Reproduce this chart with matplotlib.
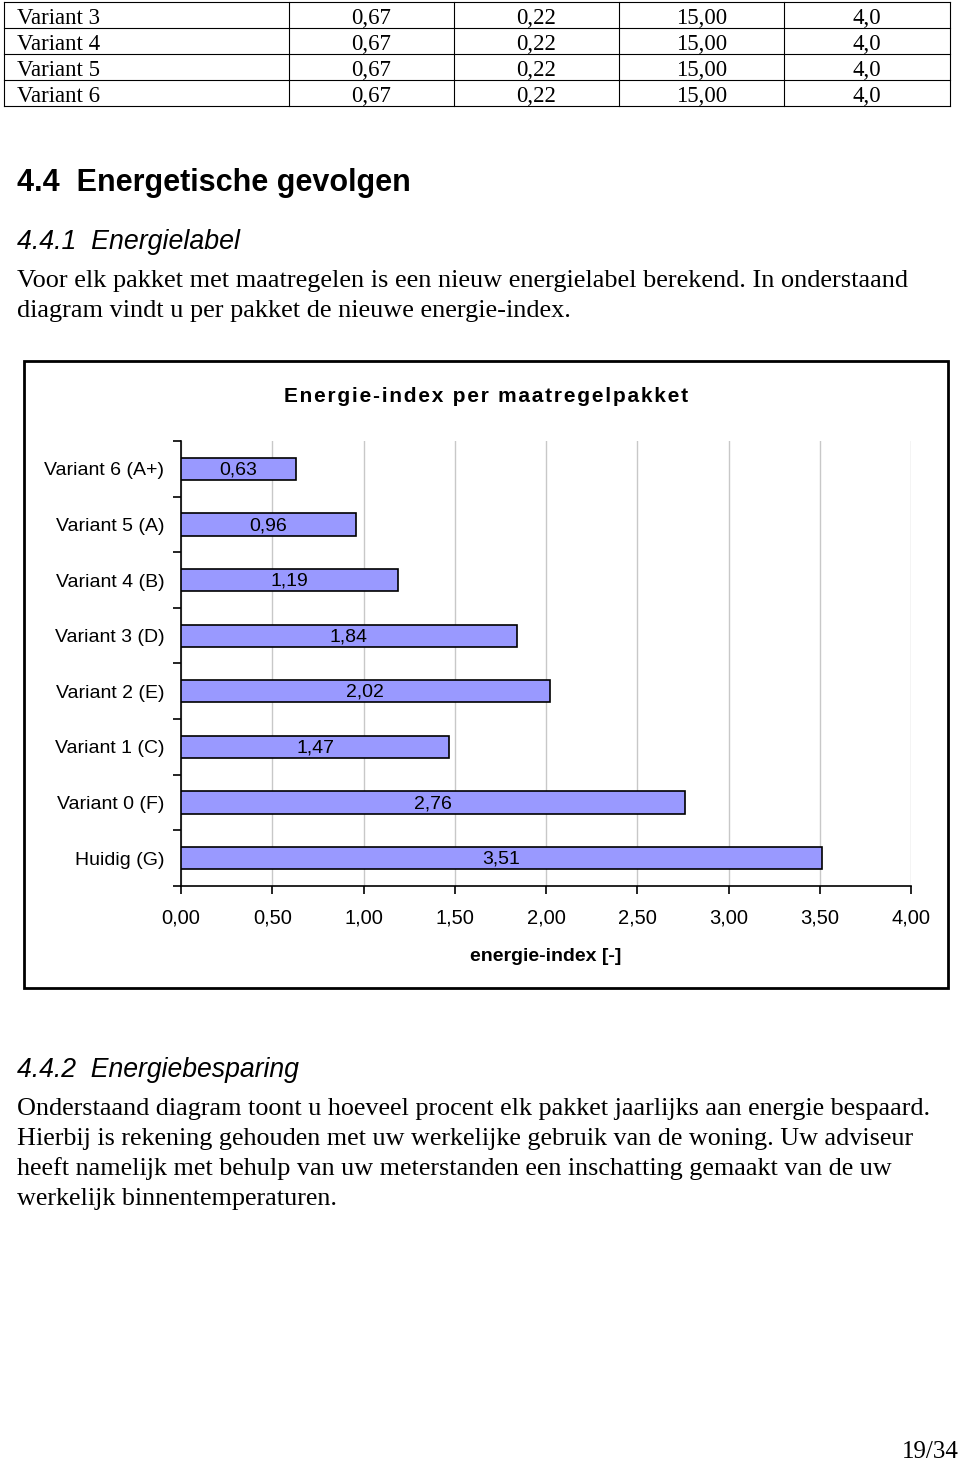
import matplotlib.pyplot as plt
from matplotlib.patches import Rectangle
import numpy as np

# data
table_rows = ["Variant 3", "Variant 4", "Variant 5", "Variant 6"]
table_u_raam = ["0,67", "0,67", "0,67", "0,67"]
table_u_deur = ["0,22", "0,22", "0,22", "0,22"]
table_rc = ["15,00", "15,00", "15,00", "15,00"]
table_last = ["4,0", "4,0", "4,0", "4,0"]

categories = ["Huidig (G)", "Variant 0 (F)", "Variant 1 (C)", "Variant 2 (E)",
              "Variant 3 (D)", "Variant 4 (B)", "Variant 5 (A)", "Variant 6 (A+)"]
values = [3.51, 2.76, 1.47, 2.02, 1.84, 1.19, 0.96, 0.63]
xticks = [0, 0.5, 1.0, 1.5, 2.0, 2.5, 3.0, 3.5, 4.0]

W, H = 960, 1463
fig = plt.figure(figsize=(W / 100, H / 100), dpi=100)

# page overlay in pixel coordinates
page = fig.add_axes([0, 0, 1, 1])
page.set_xlim(0, W)
page.set_ylim(H, 0)
page.axis("off")

serif = "Liberation Serif"
sans = ["Liberation Sans", "DejaVu Sans"]

# table
col_edges = [4, 289, 454, 619, 784, 950]
row_edges = [2, 28, 54, 80, 106]
for y in row_edges:
    page.plot([col_edges[0], col_edges[-1]], [y, y], color="black", lw=0.8)
for x in col_edges:
    page.plot([x, x], [row_edges[0], row_edges[-1]], color="black", lw=0.8)
cols = [table_u_raam, table_u_deur, table_rc, table_last]
for i, name in enumerate(table_rows):
    yc = (row_edges[i] + row_edges[i + 1]) / 2 + 3
    page.text(col_edges[0] + 13, yc, name, family=serif, fontsize=16.5,
              va="center", ha="left")
    for j, col in enumerate(cols):
        xc = (col_edges[j + 1] + col_edges[j + 2]) / 2
        page.text(xc, yc, col[i], family=serif, fontsize=16.5,
                  va="center", ha="center")

# headings and body text
page.text(17, 183, "4.4  Energetische gevolgen", family=sans, fontsize=22,
          weight="bold", va="center")
page.text(17, 242, "4.4.1  Energielabel", family=sans, fontsize=19.3,
          style="italic", va="center")
page.text(17, 281, "Voor elk pakket met maatregelen is een nieuw energielabel berekend. "
          "In onderstaand", family=serif, fontsize=18.9, va="center")
page.text(17, 311, "diagram vindt u per pakket de nieuwe energie-index.",
          family=serif, fontsize=18.9, va="center")

page.text(17, 1070, "4.4.2  Energiebesparing", family=sans, fontsize=19.2,
          style="italic", va="center")
body = ["Onderstaand diagram toont u hoeveel procent elk pakket jaarlijks aan energie bespaard.",
        "Hierbij is rekening gehouden met uw werkelijke gebruik van de woning. Uw adviseur",
        "heeft namelijk met behulp van uw meterstanden een inschatting gemaakt van de uw",
        "werkelijk binnentemperaturen."]
for k, line in enumerate(body):
    page.text(17, 1109 + 30 * k, line, family=serif, fontsize=18.8, va="center")

page.text(930, 1452, "19/34", family=serif, fontsize=18, va="center", ha="center")

# chart frame
page.add_patch(Rectangle((24, 361), 924, 627, fill=False, edgecolor="black", lw=2))
title = "Energie-index per maatregelpakket"
page.text(486, 396, "\u200a".join(title), family=sans, fontsize=15,
          weight="bold", va="center", ha="center")

# chart
ax = fig.add_axes([181 / W, 1 - 886 / H, 730 / W, 445 / H])
y = np.arange(len(categories))
bars = ax.barh(y, values, height=0.4, color="#9999ff", edgecolor="black", lw=1.2,
               zorder=3)
for b, v in zip(bars, values):
    ax.text(v / 2, b.get_y() + b.get_height() / 2 - 0.02, f"{v:.2f}".replace(".", ","),
            ha="center", va="center", family=sans, fontsize=14, zorder=4)

ax.set_xlim(0, 4)
ax.set_ylim(-0.5, len(categories) - 0.5)
ax.set_xticks(xticks)
ax.set_xticklabels([f"{t:.2f}".replace(".", ",") for t in xticks], family=sans,
                   fontsize=14.5)
ax.set_yticks(y)
ax.set_yticklabels(categories, family=sans, fontsize=14)
ax.set_yticks(np.arange(len(categories) + 1) - 0.5, minor=True)
ax.tick_params(axis="y", which="major", length=0, pad=12)
ax.tick_params(axis="y", which="minor", length=6, width=1.2, direction="out")
ax.tick_params(axis="x", length=6, width=1.2, direction="out", pad=10)
ax.xaxis.grid(True, color="#c8c8c8", lw=1, zorder=0)
ax.set_axisbelow(True)
for s in ["top", "right"]:
    ax.spines[s].set_visible(False)
for s in ["left", "bottom"]:
    ax.spines[s].set_linewidth(1.2)
ax.set_xlabel("energie-index [-]", family=sans, fontsize=14, weight="bold",
              labelpad=15)

fig.savefig("out.png", dpi=100)
